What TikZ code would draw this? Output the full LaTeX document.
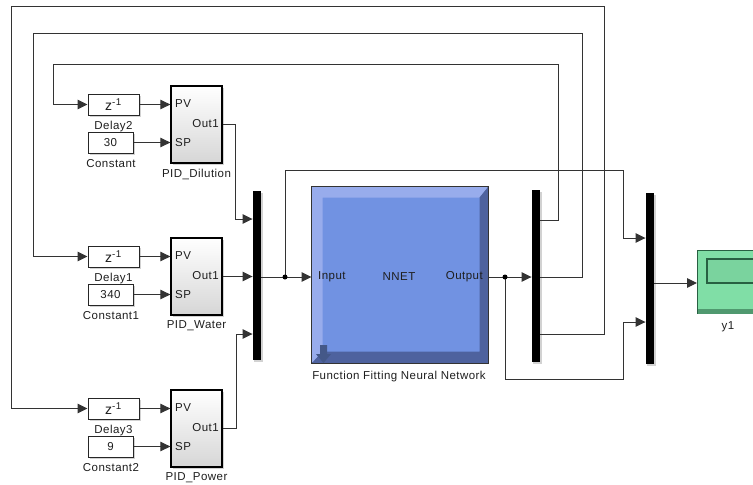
\documentclass[tikz,border=0pt]{standalone}
\usepackage{fontspec}
\setmainfont[LetterSpace=4]{Liberation Sans}
\usetikzlibrary{arrows.meta,shadows,calc}
\definecolor{nnface}{RGB}{113,146,226}
\definecolor{nnlight}{RGB}{152,172,236}
\definecolor{nndark}{RGB}{78,98,158}
\definecolor{scfill}{RGB}{128,222,166}
\definecolor{scdark}{RGB}{40,96,66}
\definecolor{txt}{RGB}{30,30,30}
\begin{document}
\begin{tikzpicture}[x=1pt,y=-1pt,
  every node/.style={font=\fontsize{11.5}{13}\selectfont, text=txt, inner sep=0pt},
  wire/.style={draw=black!80, line width=1pt},
  arr/.style={wire, -{Triangle[length=10pt,width=9.5pt]}},
  shad/.style={drop shadow={shadow xshift=1.5pt,shadow yshift=-1.5pt,fill=black!35,opacity=0.5}},
  smallblk/.style={draw=black!85, line width=1pt, fill=white, shad, minimum height=21pt},
  delayblk/.style={smallblk, minimum width=51pt, font=\fontsize{14}{14}\selectfont},
  constblk/.style={smallblk, minimum width=45pt},
  pidblk/.style={draw=black, line width=1.3pt, top color=white, bottom color=black!16, shad, minimum width=51pt, minimum height=77pt},
  bar/.style={fill=black, draw=none, minimum width=8.5pt, shad},
  lbl/.style={font=\fontsize{11.5}{13}\selectfont},
  dot/.style={circle, fill=black, minimum size=5pt}
]
\useasboundingbox (0,0) rectangle (753,485);

% ---- PID rows ----
\node[delayblk] (dl1) at (113.5,104.5) {z\textsuperscript{-1}};
\node[constblk] (c1) at (110.5,142.5) {30};
\node[pidblk] (p1) at (196.5,124.5) {};
\node[lbl] (dl1l) at (113.5,127) {Delay2};
\node[lbl] (c1l) at (111,164) {Constant};
\node[lbl] (p1l) at (196.5,174) {PID\_Dilution};
\node[anchor=west] (p1pv) at (175,104) {PV};
\node[anchor=west] (p1sp) at (175,143) {SP};
\node[anchor=east] (p1o) at (219,124) {Out1};

\node[delayblk] (dl2) at (113.5,256.5) {z\textsuperscript{-1}};
\node[constblk] (c2) at (110.5,294.5) {340};
\node[pidblk] (p2) at (196.5,276.5) {};
\node[lbl] (dl2l) at (113.5,279) {Delay1};
\node[lbl] (c2l) at (111,316) {Constant1};
\node[lbl] (p2l) at (196.5,326) {PID\_Water};
\node[anchor=west] (p2pv) at (175,256) {PV};
\node[anchor=west] (p2sp) at (175,295) {SP};
\node[anchor=east] (p2o) at (219,276) {Out1};

\node[delayblk] (dl3) at (113.5,408.5) {z\textsuperscript{-1}};
\node[constblk] (c3) at (110.5,446.5) {9};
\node[pidblk] (p3) at (196.5,428.5) {};
\node[lbl] (dl3l) at (113.5,431) {Delay3};
\node[lbl] (c3l) at (111,468) {Constant2};
\node[lbl] (p3l) at (196.5,478) {PID\_Power};
\node[anchor=west] (p3pv) at (175,408) {PV};
\node[anchor=west] (p3sp) at (175,447) {SP};
\node[anchor=east] (p3o) at (219,428) {Out1};

\foreach \i in {1,2,3}{
  \draw[arr] (dl\i.east) -- (dl\i.east -| p\i.west);
  \draw[arr] (c\i.east) -- (c\i.east -| p\i.west);
}

% ---- mux / nnet / demux / mux / scope ----
\node[bar, minimum height=169pt] (m1) at (257,275.5) {};
\node[draw=black!80, line width=1pt, fill=nnface, minimum width=176pt, minimum height=176pt] (nn) at (400,275) {};
\fill[nnlight] (nn.north west) -- (nn.north east) -- ($(nn.north east)+(-9,11)$) -- ($(nn.north west)+(11,11)$) -- ($(nn.south west)+(11,-12)$) -- (nn.south west) -- cycle;
\fill[nndark] (nn.north east) -- (nn.south east) -- (nn.south west) -- ($(nn.south west)+(11,-12)$) -- ($(nn.south east)+(-9,-12)$) -- ($(nn.north east)+(-9,11)$) -- cycle;
\draw[black!80, line width=1pt] (nn.north west) rectangle (nn.south east);
\fill[black!40!nnface] (320,345) -- (327,345) -- (327,354) -- (331,354) -- (323.5,363) -- (316,354) -- (320,354) -- cycle;
\node[anchor=west] (nnin) at (318,277) {Input};
\node (nnt) at (399,277) {NNET};
\node[anchor=east] (nnout) at (483,277) {Output};
\node[lbl] (nnl) at (399,377) {Function Fitting Neural Network};

\node[bar, minimum height=172pt] (dm) at (536,276) {};
\node[bar, minimum height=171pt] (m2) at (650,278.5) {};

\node[draw=scdark, line width=1pt, fill=scfill, minimum width=73pt, minimum height=63pt, anchor=north west] (sc) at (697,250) {};
\fill[scdark!55!scfill] ($(sc.south west)+(1,-5)$) rectangle ($(sc.south east)+(0,-0.5)$);
\draw[scdark, line width=1.2pt, fill=scfill!95!black] (707,259) rectangle (775,283);
\node[lbl] (scl) at (728,327) {y1};

% ---- coordinates ----
\coordinate (j1) at (285,277);
\coordinate (j2) at (505,277);

% PID outputs to mux1
\draw[arr] (p1.east) -- (235,124.5) -- (235,219) -- (m1.west |- 0,219);
\draw[arr] (p2.east) -- (m1.west |- p2.east);
\draw[arr] (p3.east) -- (236,428.5) -- (236,334) -- (m1.west |- 0,334);

% mux1 -> nnet
\draw[wire] (m1.east |- j1) -- (j1);
\draw[arr] (j1) -- (nn.west |- j1);
\draw[arr] (j1) -- (285,170) -- (623,170) -- (623,238) -- (m2.west |- 0,238);
% nnet -> demux
\draw[wire] (nn.east |- j2) -- (j2);
\draw[arr] (j2) -- (dm.west |- j2);
\draw[arr] (j2) -- (505,379) -- (623,379) -- (623,322) -- (m2.west |- 0,322);
% mux2 -> scope
\draw[arr] (m2.east |- 0,283) -- (sc.west |- 0,283);

% feedback loops
\draw[arr] (dm.east |- 0,220) -- (558,220) -- (558,64) -- (53,64) -- (53,104.5) -- (dl1.west);
\draw[arr] (dm.east |- 0,277) -- (582,277) -- (582,33) -- (33,33) -- (33,256.5) -- (dl2.west);
\draw[arr] (dm.east |- 0,334) -- (604,334) -- (604,6) -- (11,6) -- (11,408.5) -- (dl3.west);

\node[dot] (j1d) at (j1) {};
\node[dot] (j2d) at (j2) {};
\end{tikzpicture}
\end{document}
